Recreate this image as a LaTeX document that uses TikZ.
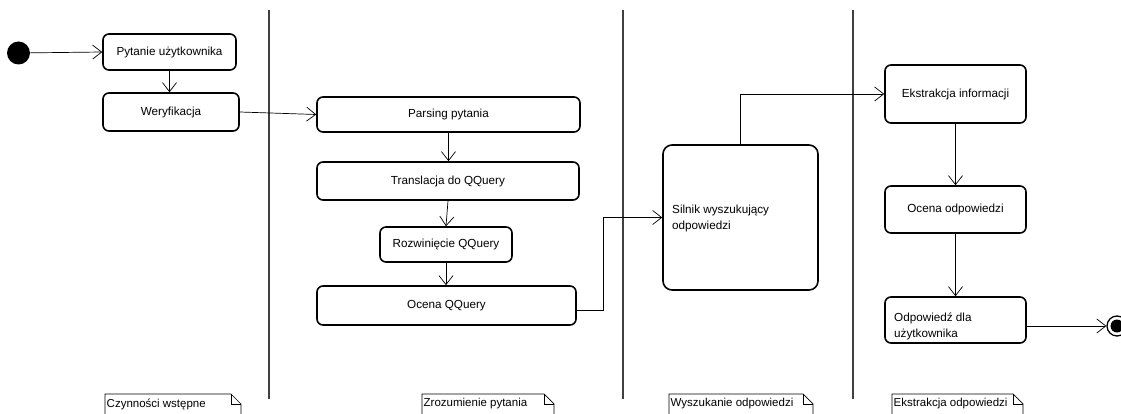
\documentclass[tikz,border=0pt]{standalone}
\usepackage{fontspec}
\setmainfont{Liberation Sans}
\usetikzlibrary{arrows.meta}
\begin{document}
\begin{tikzpicture}[x=1pt,y=-1pt,
  act/.style={draw, line width=1.6pt, rounded corners=6pt, inner sep=0pt, font=\fontsize{11.7}{14}\selectfont},
  txt/.style={inner sep=0pt, align=left, anchor=west, font=\fontsize{11.7}{16}\selectfont},
  lane/.style={draw=black!75, line width=1.3pt},
  flow/.style={draw, line width=0.7pt, -{Straight Barb[length=9pt,width=14pt,line width=0.7pt]}},
  notebox/.style={draw, line width=0.7pt},
  notetxt/.style={inner sep=0pt, anchor=west, font=\fontsize{11.5}{13}\selectfont}]
\useasboundingbox (0,0) rectangle (1121,414);
% lanes
\draw[lane] (269,10) -- (269,399);
\draw[lane] (623,10) -- (623,399);
\draw[lane] (853,10) -- (853,399);
% start
\node[circle, fill=black, minimum size=23pt, inner sep=0pt] (start) at (18.5,53) {};
% activities
\node[act, minimum width=133pt, minimum height=36pt] (pyt) at (169.5,52) {Pytanie użytkownika};
\node[act, minimum width=136pt, minimum height=38pt] (wer) at (171,112) {Weryfikacja};
\node[act, minimum width=263pt, minimum height=35pt] (pars) at (448.5,114.5) {Parsing pytania};
\node[act, minimum width=262pt, minimum height=38pt] (tran) at (448,181) {Translacja do QQuery};
\node[act, minimum width=132pt, minimum height=35pt] (rozw) at (446,244.5) {Rozwinięcie QQuery};
\node[act, minimum width=259pt, minimum height=39pt] (ocq) at (446.5,305.5) {Ocena QQuery};
\node[act, rounded corners=9pt, minimum width=155pt, minimum height=145pt] (sil) at (740.5,217.5) {};
\node[txt] (siltxt) at (672,218) {Silnik wyszukujący\\odpowiedzi};
\node[act, minimum width=141pt, minimum height=58pt] (ekst) at (955.5,94) {Ekstrakcja informacji};
\node[act, minimum width=141pt, minimum height=47pt] (oco) at (955.5,209.5) {Ocena odpowiedzi};
\node[act, minimum width=141pt, minimum height=46pt] (odp) at (955.5,320) {};
\node[txt] (odptxt) at (894,326) {Odpowiedź dla\\użytkownika};
% end
\node[circle, draw, line width=1.3pt, minimum size=20pt, inner sep=0pt] (endc) at (1117,326) {};
\node[circle, fill=black, minimum size=13pt, inner sep=0pt] (endi) at (endc) {};
% connectors
\draw[flow] (start) -- (pyt.west);
\draw[flow] (pyt.south) -- (pyt.south |- wer.north);
\draw[flow] (wer.east) -- (pars.west);
\draw[flow] (pars.south) -- (pars.south |- tran.north);
\draw[flow] (tran.south) -- (rozw.north);
\draw[flow] (rozw.south) -- (rozw.south |- ocq.north);
\draw[flow] ([yshift=-5pt]ocq.east) -- ++(27,0) |- (sil.west);
\draw[flow] (sil.north) |- (ekst.west);
\draw[flow] (ekst.south) -- (oco.north);
\draw[flow] (oco.south) -- (odp.north);
\draw[flow] (odp.east |- endc.west) -- (endc.west);
% notes
\foreach \a/\b/\t [count=\i] in {105/241/Czynności wstępne, 422/554/Zrozumienie pytania, 669/813/Wyszukanie odpowiedzi, 892/1023/Ekstrakcja odpowiedzi}{
  \draw[notebox] (\a,416) -- (\a,394) -- (\b-10,394) -- (\b,404) -- (\b,416);
  \draw[notebox] (\b-10,394) -- (\b-10,404) -- (\b,404);
  \node[notetxt] (note\i) at (\a+1.5,404) {\t};
}
\end{tikzpicture}
\end{document}
